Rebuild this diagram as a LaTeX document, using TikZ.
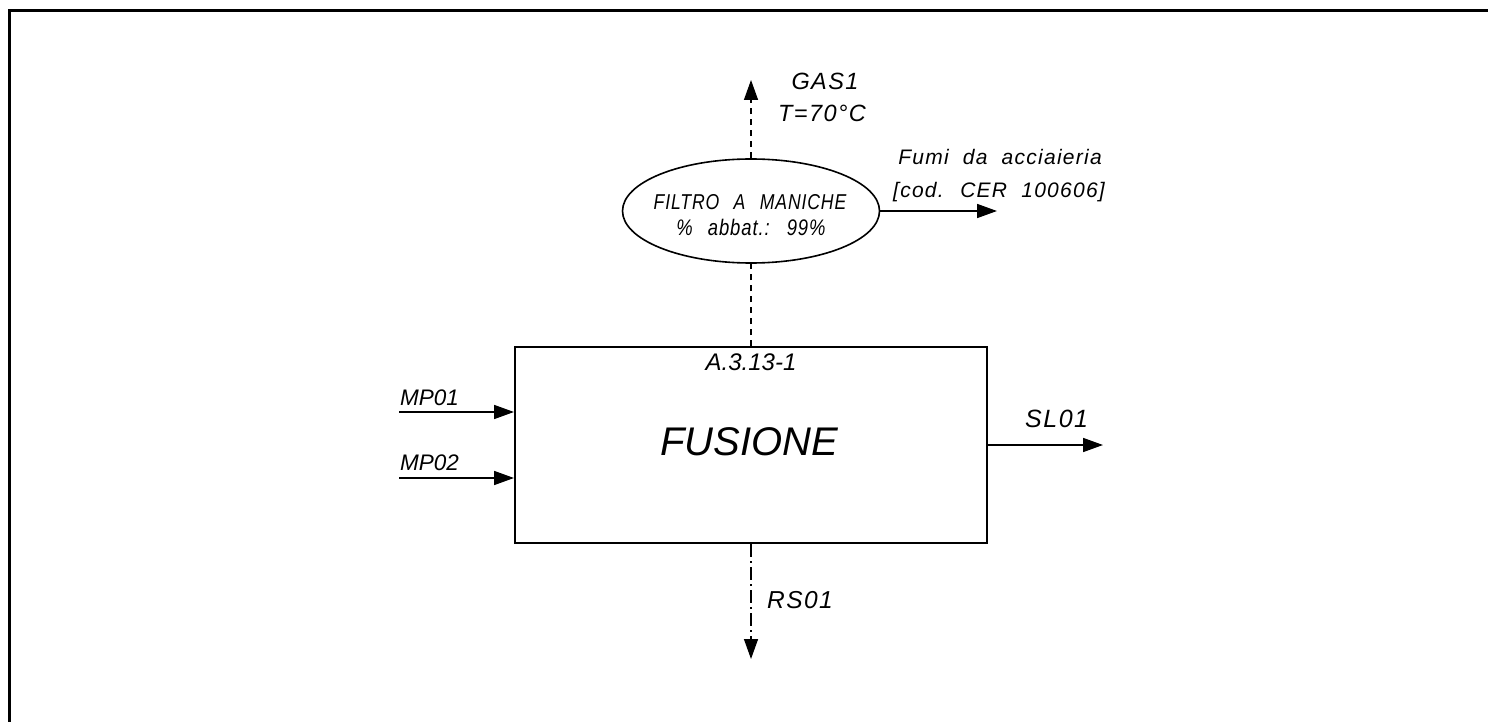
\documentclass[tikz,border=0pt]{standalone}
\usepackage{fontspec}
\setmainfont{Liberation Sans}
\newfontfamily\cad[LetterSpace=6,WordSpace=2]{Liberation Sans}
\newfontfamily\cadn[FakeStretch=0.82,LetterSpace=4,WordSpace=2.5]{Liberation Sans}
\usetikzlibrary{arrows.meta,shapes.geometric}
\tikzset{
  tip/.style={-{Triangle[length=20pt,width=14pt]}},
  flow/.style={line width=1.7pt,tip},
  dashflow/.style={line width=1.4pt,dash pattern=on 6pt off 5pt},
  dashdotflow/.style={line width=1.4pt,dash pattern=on 13pt off 4pt on 2pt off 4pt},
  cadtxt/.style={inner sep=0pt,font=\cad\itshape\fontsize{#1}{#1}\selectfont},
  cadtxt/.default=20,
  cadntxt/.style={inner sep=0pt,font=\cadn\itshape\fontsize{#1}{#1}\selectfont},
  arialtxt/.style={inner sep=0pt,font=\itshape\fontsize{#1}{#1}\selectfont},
}
\begin{document}
\begin{tikzpicture}[x=1pt,y=-1pt]
\useasboundingbox (0,0) rectangle (1488,722);
% frame
\draw[line width=3pt] (9,730) -- (9,11) -- (1495,11);
% main box
\node[draw,line width=2pt,minimum width=472pt,minimum height=196pt,inner sep=0pt] (box) at (751,445) {};
\node[arialtxt=40] (fus) at (749,442) {FUSIONE};
\node[arialtxt=24,anchor=base] (code) at (751,370) {A.3.13-1};
% filter ellipse
\node[ellipse,draw,line width=1.6pt,minimum width=257pt,minimum height=104pt,inner sep=0pt] (ell) at (751,211) {};
\node[cadntxt=21.5,anchor=base] (f1) at (750,210) {FILTRO A MANICHE};
\node[cadntxt=22.5,anchor=base] (f2) at (751,235) {\% abbat.: 99\%};
% GAS1
\coordinate (gas) at (751,80);
\draw[dashflow,tip] (ell.north) -- (gas);
\draw[dashflow] (box.north) -- (ell.south);
\node[cadtxt=23.5,anchor=base] (g1) at (825,90) {GAS1};
\node[cadtxt=23.5,anchor=base] (g2) at (822,122) {T=70°C};
% fumi
\coordinate (fumi) at (997,211);
\draw[flow] (ell.east) -- (fumi);
\node[cadtxt=21,anchor=base] (fu1) at (1000,165) {Fumi da acciaieria};
\node[cadtxt=21,anchor=base] (fu2) at (999,197) {[cod. CER 100606]};
% inputs
\coordinate (mp1) at (399,412);
\coordinate (mp2) at (399,478);
\draw[flow] (mp1) -- (box.west |- mp1);
\draw[flow] (mp2) -- (box.west |- mp2);
\node[arialtxt=22.5,anchor=base west] (l1) at (400,405) {MP01};
\node[arialtxt=22.5,anchor=base west] (l2) at (400,470) {MP02};
% output
\coordinate (sl) at (1103,445);
\draw[flow] (box.east) -- (sl);
\node[cadtxt=25,anchor=base west] (s1) at (1025,427) {SL01};
% residue
\coordinate (rs) at (751,659);
\draw[dashdotflow,tip] (box.south) -- (rs);
\node[cadtxt=24.5,anchor=base west] (r1) at (767,608) {RS01};
\end{tikzpicture}
\end{document}
